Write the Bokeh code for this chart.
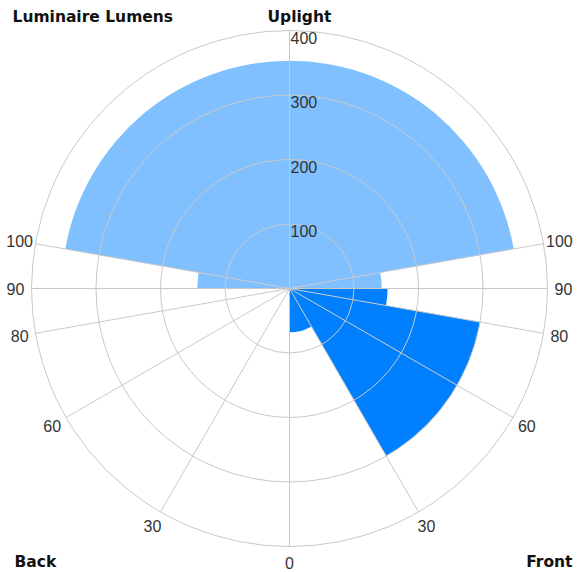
import math
from bokeh.plotting import figure
from bokeh.models import ColumnDataSource, Range1d, Label
from bokeh.core.properties import value
from bokeh.embed import file_html
from bokeh.resources import INLINE

# ---- data (lumens per zone) ----
front_zones = ["FL", "FM", "FH", "FVH"]
front_lumens = [68, 300, 300, 152]
back_zones = ["BL", "BM", "BH", "BVH"]
back_lumens = [0, 0, 0, 0]
down_bounds = [0, 30, 60, 80, 90]          # vertical-angle zone limits (deg)
uplight_zones = ["UL", "UH"]
uplight_lumens = [143, 353]
up_bounds = [90, 100, 180]
ring_values = [100, 200, 300, 400]
ring_labels = ["100", "200", "300", "400"]
spoke_angles = [0, 30, 60, 80, 90, 100]
spoke_labels = ["0", "30", "60", "80", "90", "100"]

# ---- layout ----
W, H = 578, 572
S = 0.645                    # px per lumen unit
CX, CY = 289, 288            # centre in figure px (from top-left)
R_MAX = 400
GRID = "#c8c8c8"
DOWN_COLOR = "#0080ff"
UP_COLOR = "#80c0ff"
TXT = "#333333"

p = figure(width=W, height=H, output_backend="svg", toolbar_location=None,
           x_range=Range1d(-CX / S, (W - CX) / S),
           y_range=Range1d(-(H - CY) / S, CY / S),
           min_border=0, outline_line_color=None)
p.axis.visible = False
p.grid.visible = False
p.background_fill_color = "white"
p.border_fill_color = "white"


def ang(theta, side):
    """vertical angle (0 = nadir) on a side (+1 front, -1 back) -> math radians"""
    return math.radians(-90 + side * theta)


# ---- wedges ----
st, en, rad, col = [], [], [], []
for i, v in enumerate(front_lumens):
    a, b = down_bounds[i], down_bounds[i + 1]
    st.append(ang(a, 1)); en.append(ang(b, 1)); rad.append(v); col.append(DOWN_COLOR)
for i, v in enumerate(back_lumens):
    a, b = down_bounds[i], down_bounds[i + 1]
    st.append(ang(b, -1)); en.append(ang(a, -1)); rad.append(v); col.append(DOWN_COLOR)
# uplight low: both sides
a, b = up_bounds[0], up_bounds[1]
st.append(ang(a, 1)); en.append(ang(b, 1)); rad.append(uplight_lumens[0]); col.append(UP_COLOR)
st.append(ang(b, -1)); en.append(ang(a, -1)); rad.append(uplight_lumens[0]); col.append(UP_COLOR)
# uplight high: spans over the top
st.append(ang(up_bounds[1], 1)); en.append(ang(up_bounds[1], -1) + 2 * math.pi)
rad.append(uplight_lumens[1]); col.append(UP_COLOR)

wsrc = ColumnDataSource(dict(x=[0] * len(st), y=[0] * len(st), start=st, end=en,
                             radius=rad, color=col))
p.wedge(x="x", y="y", radius="radius", start_angle="start", end_angle="end",
        fill_color="color", line_color=None, source=wsrc)

# ---- grid ----
p.circle(x=[0] * len(ring_values), y=[0] * len(ring_values), radius=ring_values,
         fill_color=None, line_color=GRID, line_width=1)
x1, y1 = [], []
for side in (1, -1):
    for t in spoke_angles:
        a = ang(t, side)
        x1.append(R_MAX * math.cos(a)); y1.append(R_MAX * math.sin(a))
a = ang(180, 1)
x1.append(R_MAX * math.cos(a)); y1.append(R_MAX * math.sin(a))
p.segment(x0=[0] * len(x1), y0=[0] * len(x1), x1=x1, y1=y1,
          line_color=GRID, line_width=1)

# ---- radial labels ----
p.text(x=[0] * len(ring_values), y=ring_values, text=ring_labels,
       text_font=value("Liberation Sans"), text_font_size=value("16px"),
       text_color=TXT, text_align="left", text_baseline="top",
       x_offset=1, y_offset=1)

# ---- angle labels ----
RL = 274 / S
lx, ly, lt = [], [], []
for side in (1, -1):
    for t, s in zip(spoke_angles, spoke_labels):
        if side == -1 and t == 0:
            continue
        a = ang(t, side)
        lx.append(RL * math.cos(a)); ly.append(RL * math.sin(a)); lt.append(s)
p.text(x=lx, y=ly, text=lt, text_font=value("Liberation Sans"),
       text_font_size=value("16px"), text_color=TXT,
       text_align="center", text_baseline="middle")

# ---- titles ----
def title(txt, x, y_from_top, align):
    p.add_layout(Label(x=x, y=H - y_from_top, x_units="screen", y_units="screen",
                       text=txt, text_font="DejaVu Sans", text_font_style="bold",
                       text_font_size="15.5px", text_color="#111111",
                       text_align=align, text_baseline="middle"))

title("Luminaire Lumens", 12, 16, "left")
title("Uplight", 267, 16, "left")
title("Back", 14, 561, "left")
title("Front", 572, 561, "right")

open("out.html", "w").write(file_html(p, INLINE))
